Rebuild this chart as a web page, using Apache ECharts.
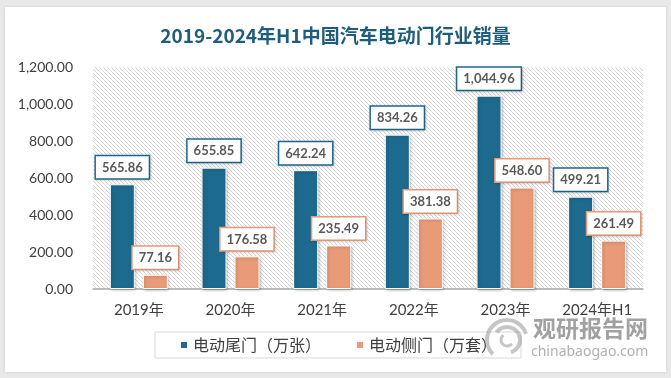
<!DOCTYPE html>
<html>
<head>
<meta charset="utf-8">
<script src="https://cdn.jsdelivr.net/npm/echarts@6/dist/echarts.min.js"></script>
<style>
  html, body { margin:0; padding:0; width:671px; height:378px; background:#e9e9e9; overflow:hidden; }
  #card { position:absolute; left:5px; top:7px; width:661px; height:365px; background:#fff; box-shadow:0 0 3px rgba(0,0,0,0.12); }
  #chart { position:absolute; left:0; top:0; width:671px; height:378px; }
</style>
</head>
<body>
<div id="card"></div>
<div id="chart"></div>
<script>
const categories = ['2019年', '2020年', '2021年', '2022年', '2023年', '2024年H1'];
const tailDoor = [565.86, 655.85, 642.24, 834.26, 1044.96, 499.21];
const sideDoor = [77.16, 176.58, 235.49, 381.38, 548.60, 261.49];
const seriesNames = ['电动尾门（万张）', '电动侧门（万套）'];
const titleText = '2019-2024年H1中国汽车电动门行业销量';

const numFont = 'Lato, "Noto Sans CJK SC", sans-serif';
const cjkFont = '"Noto Sans CJK SC", sans-serif';
const blue = '#1d6a8e';
const orange = '#e99b78';

function fmt(v) {
  return Number(v).toLocaleString('en-US', {minimumFractionDigits: 2, maximumFractionDigits: 2});
}

// hatch pattern
const pc = document.createElement('canvas');
pc.width = 4; pc.height = 4;
const g = pc.getContext('2d');
g.fillStyle = '#ffffff'; g.fillRect(0, 0, 4, 4);
g.strokeStyle = '#d6d6d6'; g.lineWidth = 1;
g.beginPath();
g.moveTo(-1, -1); g.lineTo(5, 5);
g.moveTo(-1, 3); g.lineTo(1, 5);
g.moveTo(3, -1); g.lineTo(5, 1);
g.stroke();

function labelFor(color) {
  return {
    show: true,
    position: 'top',
    distance: 6,
    formatter: p => fmt(p.value),
    backgroundColor: '#fff',
    borderColor: color,
    borderWidth: 1.5,
    padding: [5, 6, 4, 6],
    color: '#595959',
    fontWeight: 'bold',
    fontSize: 13,
    fontFamily: numFont,
    shadowBlur: 3,
    shadowColor: 'rgba(0,0,0,0.15)',
    shadowOffsetX: 1,
    shadowOffsetY: 1
  };
}

function barStyle(color) {
  return {
    color: color,
    borderColor: '#ffffff',
    borderWidth: 1,
    shadowBlur: 3,
    shadowColor: 'rgba(0,0,0,0.25)',
    shadowOffsetX: 1,
    shadowOffsetY: 1
  };
}

const chart = echarts.init(document.getElementById('chart'), null, {renderer: 'canvas'});
chart.setOption({
  backgroundColor: 'transparent',
  animation: false,
  title: {
    text: titleText,
    left: 'center',
    top: 21,
    textStyle: { color: '#1f5d7c', fontSize: 19, fontWeight: 'bold', fontFamily: '"Noto Sans CJK SC", sans-serif' }
  },
  grid: {
    left: 93, right: 28, top: 67, bottom: 89,
    show: true,
    backgroundColor: { image: pc, repeat: 'repeat' },
    borderWidth: 0
  },
  legend: {
    data: seriesNames,
    left: 155,
    top: 332,
    icon: 'rect',
    itemWidth: 8,
    itemHeight: 8,
    itemGap: 34,
    padding: [5, 24, 5, 24],
    borderColor: '#d9d9d9',
    borderWidth: 1,
    backgroundColor: '#fff',
    textStyle: { color: '#404040', fontSize: 16, fontFamily: cjkFont }
  },
  xAxis: {
    type: 'category',
    data: categories,
    axisLine: { lineStyle: { color: '#a6a6a6', width: 1.5 } },
    axisTick: { show: false },
    axisLabel: { color: '#404040', fontSize: 15, fontFamily: numFont, margin: 14 }
  },
  yAxis: {
    type: 'value',
    min: 0, max: 1200, interval: 200,
    axisLine: { show: false },
    axisTick: { show: false },
    splitLine: { show: false },
    axisLabel: { color: '#404040', fontSize: 14, fontFamily: numFont, margin: 20, formatter: v => fmt(v) }
  },
  series: [
    {
      name: seriesNames[0], type: 'bar', data: tailDoor,
      barWidth: 25, barGap: '32%',
      itemStyle: barStyle(blue),
      label: labelFor(blue)
    },
    {
      name: seriesNames[1], type: 'bar', data: sideDoor,
      barWidth: 25,
      itemStyle: barStyle(orange),
      label: labelFor(orange)
    }
  ],
  graphic: [
    { type: 'arc', z: 100, shape: { cx: 507, cy: 340, r: 20, startAngle: Math.PI * 0.75, endAngle: Math.PI * 1.9 }, style: { stroke: 'rgba(150,150,150,0.55)', lineWidth: 4, fill: null } },
    { type: 'arc', z: 100, shape: { cx: 507, cy: 340, r: 13, startAngle: Math.PI * 1.2, endAngle: Math.PI * 2.4 }, style: { stroke: 'rgba(150,150,150,0.55)', lineWidth: 4, fill: null } },
    { type: 'arc', z: 100, shape: { cx: 507, cy: 340, r: 6, startAngle: Math.PI * 0.2, endAngle: Math.PI * 1.3 }, style: { stroke: 'rgba(150,150,150,0.55)', lineWidth: 3, fill: null } },
    { type: 'text', z: 100, left: 533, top: 317, style: { text: '观研报告网', fill: 'rgba(130,130,130,0.75)', font: 'bold 23px "Noto Sans CJK SC", sans-serif' } },
    { type: 'text', z: 100, left: 531, top: 345, style: { text: 'chinabaogao.com', fill: 'rgba(150,150,150,0.75)', font: '14px "Noto Sans", sans-serif' } }
  ]
});
</script>
</body>
</html>
